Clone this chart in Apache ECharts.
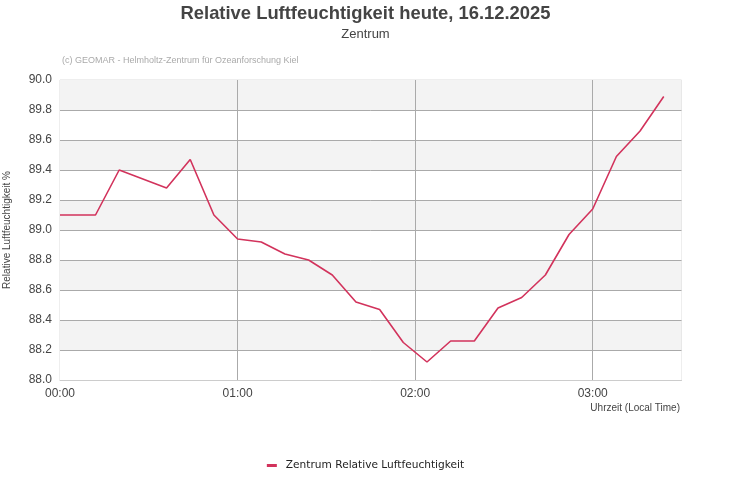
<!DOCTYPE html>
<html>
<head>
<meta charset="utf-8">
<script src="https://cdn.jsdelivr.net/npm/echarts@6/dist/echarts.min.js"></script>
<style>
html,body{margin:0;padding:0;background:#fff;}
#chart{width:731px;height:500px;}
</style>
</head>
<body>
<div id="chart"></div>
<script>
// Time of day (HH:MM) for each reading
var times = ["00:00","00:12","00:20","00:36","00:44","00:52","01:00","01:08","01:16","01:24","01:32","01:40","01:48","01:56","02:04","02:12","02:20","02:28","02:36","02:44","02:52","03:00","03:08","03:16","03:24"];
// Relative humidity %
var humidity = [89.10,89.10,89.40,89.28,89.47,89.10,88.94,88.92,88.84,88.80,88.70,88.52,88.47,88.25,88.12,88.26,88.26,88.48,88.55,88.70,88.97,89.14,89.49,89.66,89.89];
var xTickLabels = ["00:00","01:00","02:00","03:00"];
var seriesName = "Zentrum Relative Luftfeuchtigkeit";

function toMin(t){var p=t.split(":");return (+p[0])*60+(+p[1]);}
var data = times.map(function(t,i){return [toMin(t), humidity[i]];});

var chart = echarts.init(document.getElementById('chart'), null, {renderer:'canvas'});
var font = '"Liberation Sans", Arial, sans-serif';
chart.setOption({
  animation:false,
  backgroundColor:'#fff',
  title:[
    {text:'Relative Luftfeuchtigkeit heute, 16.12.2025', left:'center', top:0,
     textStyle:{fontFamily:font, fontSize:18.4, fontWeight:'bold', color:'#444'}},
    {text:'Zentrum', left:'center', top:23,
     textStyle:{fontFamily:font, fontSize:13, fontWeight:'normal', color:'#444'}}
  ],
  graphic:[
    {type:'text', left:62, top:56, style:{text:'(c) GEOMAR - Helmholtz-Zentrum für Ozeanforschung Kiel', fontFamily:font, fontSize:9, fill:'#aaa'}},
    {type:'text', right:51, top:403, style:{text:'Uhrzeit (Local Time)', fontFamily:font, fontSize:10, fill:'#444'}}
  ],
  legend:{
    bottom:24, left:'center', itemWidth:10, itemHeight:3, itemGap:10,
    icon:'rect',
    textStyle:{fontFamily:'"DejaVu Sans", sans-serif', fontSize:10.6, color:'#222', padding:[0,0,0,4]},
    data:[seriesName]
  },
  grid:{left:60, right:49.5, top:80, bottom:120, containLabel:false, outerBoundsMode:'none',
        show:true, borderColor:'#ddd', borderWidth:1},
  xAxis:{
    type:'value', min:0, max:210, interval:60,
    axisLine:{show:true, lineStyle:{color:'#ccc'}},
    axisTick:{show:false},
    axisLabel:{fontFamily:font, fontSize:12, color:'#444', margin:8,
      formatter:function(v){var i=v/60; return xTickLabels[i]!==undefined?xTickLabels[i]:'';}},
    splitLine:{show:true, showMinLine:false, showMaxLine:false, lineStyle:{color:'#aaa'}}
  },
  yAxis:{
    type:'value', min:88.0, max:90.0, interval:0.2,
    name:'Relative Luftfeuchtigkeit %', nameLocation:'middle', nameGap:48, nameRotate:90,
    nameTextStyle:{fontFamily:font, fontSize:10, color:'#444'},
    axisLine:{show:false}, axisTick:{show:false},
    axisLabel:{fontFamily:font, fontSize:12, color:'#444', margin:8,
      formatter:function(v){return v.toFixed(1);}},
    splitLine:{show:true, showMinLine:false, showMaxLine:false, lineStyle:{color:'#aaa'}},
    splitArea:{show:true, areaStyle:{color:['#fff','#f3f3f3']}}
  },
  series:[{
    name:seriesName, type:'line', data:data, symbol:'none',
    lineStyle:{color:'#d2335c', width:1.6},
    itemStyle:{color:'#d2335c'}
  }]
});
</script>
</body>
</html>
